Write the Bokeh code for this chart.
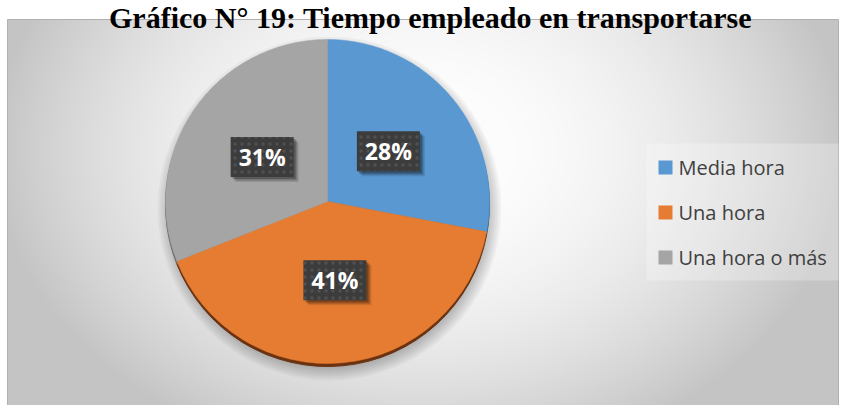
import numpy as np
from bokeh.plotting import figure
from bokeh.models import Range1d, ColumnDataSource
from bokeh.embed import file_html
from bokeh.resources import INLINE
from bokeh.core.properties import value

# ---------------- data ----------------
title = "Gráfico N° 19: Tiempo empleado en transportarse"
categories = ["Media hora", "Una hora", "Una hora o más"]
percent = [28, 41, 31]
labels = ["28%", "41%", "31%"]
colors = ["#5a98d2", "#e67c31", "#a5a5a5"]
rim_colors = ["#2f5d86", "#6a3211", "#6a6a6a"]

# ---------------- layout helpers (picture px -> data) ----------------
W, H = 843, 405
def px(x):
    return x
def py(y):
    return H - y

p = figure(width=W, height=H, x_range=Range1d(0, W), y_range=Range1d(0, H),
           output_backend="svg", toolbar_location=None, min_border=0)
p.axis.visible = False
p.grid.visible = False
p.outline_line_color = None
p.background_fill_color = "white"
p.border_fill_color = "white"

# ---------------- background gradient box ----------------
bx0, bx1, by0, by1 = 7, 838, 19, 405
nx, ny = 416, 193
xs = bx0 + (np.arange(nx) + 0.5) * (bx1 - bx0) / nx
ys = by1 - (np.arange(ny) + 0.5) * (by1 - by0) / ny
X, Y = np.meshgrid(xs, ys)
d2 = ((X - 420) / 440.0) ** 2 + ((Y - 150) / 330.0) ** 2
g = np.clip(255 - 62 * d2, 196, 252).astype(np.uint32)
img = (255 << 24) | (g << 16) | (g << 8) | g
p.image_rgba(image=[img.view(np.uint32)], x=px(bx0), y=py(by1),
             dw=bx1 - bx0, dh=by1 - by0)
p.quad(left=px(bx0), right=px(bx1), bottom=py(by1), top=py(by0),
       fill_color=None, line_color="#b0b0b0", line_width=1)

# ---------------- pie ----------------
cx, cy, R = px(327), py(201), 162
frac = np.array(percent, dtype=float) / sum(percent)
cum = np.concatenate([[0], np.cumsum(frac)])
start = np.pi / 2 - 2 * np.pi * cum[:-1]
end = np.pi / 2 - 2 * np.pi * cum[1:]
mid = (start + end) / 2

# soft shadow
for k in range(7):
    p.circle(x=cx + 2, y=cy - 7, radius=R + 10 - 2 * k, fill_color="#000000",
             fill_alpha=0.035, line_color=None)

src_rim = ColumnDataSource(dict(s=start, e=end, c=rim_colors))
p.wedge(x=cx, y=cy - 3, radius=R, start_angle="s", end_angle="e", direction="clock",
        fill_color="c", line_color="c", line_width=1, source=src_rim)

src = ColumnDataSource(dict(s=start, e=end, c=colors, cat=categories))
p.wedge(x=cx, y=cy, radius=R, start_angle="s", end_angle="e", direction="clock",
        fill_color="c", line_color="c", line_width=0.5, source=src)

# ---------------- data labels ----------------
lr = 79
lx = cx + lr * np.cos(mid)
ly = cy + lr * np.sin(mid)
lsrc = ColumnDataSource(dict(x=lx, y=ly, t=labels))
for off, a in [(5, 0.12), (3.5, 0.18), (2, 0.25)]:
    p.rect(x=lx + off, y=ly - off, width=63, height=40, fill_color="#000000",
           fill_alpha=a, line_color=None)
p.rect(x="x", y="y", width=63, height=40, source=lsrc, fill_color="#3c3c3c",
       line_color=None, hatch_pattern="dot", hatch_color="#505050",
       hatch_scale=7, hatch_weight=1.5)
p.text(x="x", y="y", text="t", source=lsrc, text_color="white",
       text_font=value("Open Sans"), text_font_size="23px",
       text_font_style="bold", text_align="center", text_baseline="middle")

# ---------------- legend ----------------
p.quad(left=px(646), right=px(838), bottom=py(280), top=py(143),
       fill_color="#ffffff", fill_alpha=0.25, line_color=None)
ley = [py(167 + 45 * i) for i in range(len(categories))]
p.rect(x=[px(665)] * len(categories), y=ley, width=14, height=14,
       fill_color=colors, line_color=None)
p.text(x=[px(678)] * len(categories), y=ley, text=categories, text_color="#404040",
       text_font=value("Open Sans"), text_font_size="20px",
       text_align="left", text_baseline="middle")

# ---------------- title ----------------
p.text(x=[px(430)], y=[py(17)], text=[title], text_color="#000000",
       text_font=value("Liberation Serif"), text_font_size="30px",
       text_font_style="bold", text_align="center", text_baseline="alphabetic")

open("out.html", "w").write(file_html(p, INLINE))
